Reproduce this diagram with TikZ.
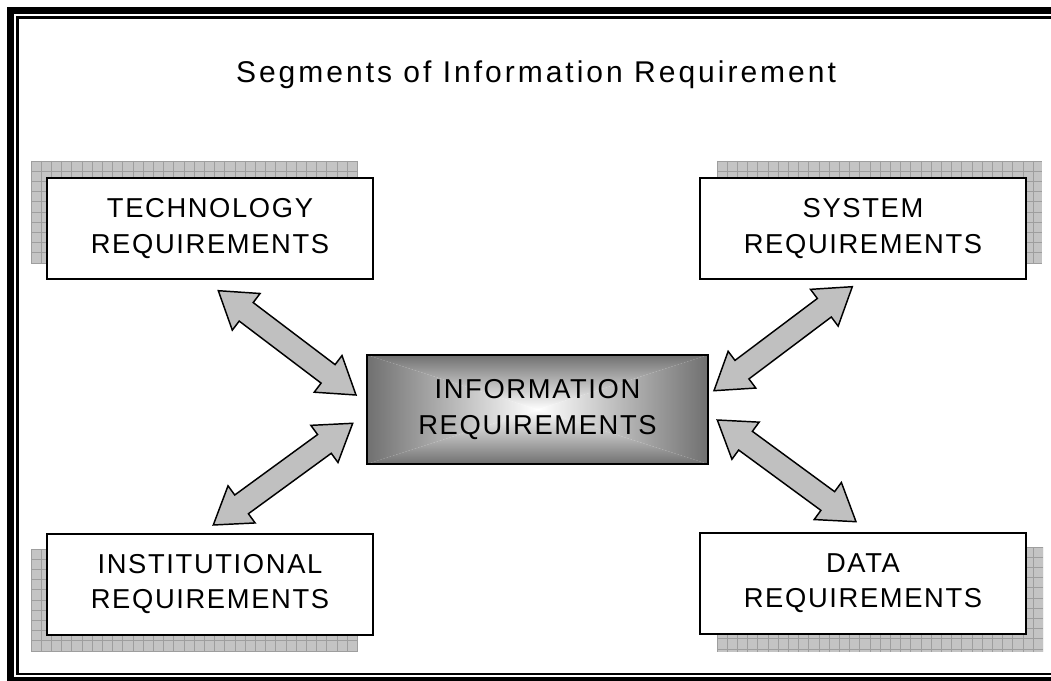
\documentclass[tikz,border=0pt]{standalone}
\usepackage{fontspec}
\setmainfont{Liberation Sans}
\newfontfamily\boxfont[LetterSpace=6]{Liberation Sans}
\newfontfamily\titlefont[LetterSpace=10]{Liberation Sans}
\usetikzlibrary{calc}
\definecolor{shadowfill}{RGB}{196,196,196}
\definecolor{shadowgrid}{RGB}{158,158,158}
\definecolor{arrowfill}{RGB}{192,192,192}
\definecolor{edgegray}{RGB}{112,112,112}
\newcommand\arrHL{26.25pt}
\newcommand\arrHW{17.25pt}
\newcommand\arrSW{8.7pt}
\newcommand\dblarr[2]{%
  \draw[blockarrow] let \p1=($(#2)-(#1)$), \n1={atan2(\y1,\x1)} in
    (#1) -- ($(#1)+(\n1:\arrHL)+(\n1+90:\arrHW)$) -- ($(#1)+(\n1:\arrHL)+(\n1+90:\arrSW)$)
    -- ($(#2)+(\n1:-\arrHL)+(\n1+90:\arrSW)$) -- ($(#2)+(\n1:-\arrHL)+(\n1+90:\arrHW)$) -- (#2)
    -- ($(#2)+(\n1:-\arrHL)+(\n1-90:\arrHW)$) -- ($(#2)+(\n1:-\arrHL)+(\n1-90:\arrSW)$)
    -- ($(#1)+(\n1:\arrHL)+(\n1-90:\arrSW)$) -- ($(#1)+(\n1:\arrHL)+(\n1-90:\arrHW)$) -- cycle;}
\newcommand\gridshadow[4]{%
  \fill[shadowfill] (#1,#2) rectangle (#3,#4);
  \begin{scope}
    \clip (#1,#2) rectangle (#3,#4);
    \foreach \gx in {0,...,33} {\draw[shadowgrid,line width=0.55pt] ({#1+\gx*10.2},#2) -- ({#1+\gx*10.2},#4);}
    \foreach \gy in {0,...,11} {\draw[shadowgrid,line width=0.55pt] (#1,{#2+\gy*10.2}) -- (#3,{#2+\gy*10.2});}
  \end{scope}}
\begin{document}
\begin{tikzpicture}[x=0.75pt,y=-0.75pt,
  reqbox/.style={draw=black,line width=1.5pt,fill=white,minimum width=244.5pt,minimum height=75.75pt,
    align=center,font=\boxfont\fontsize{20.5}{26.5}\selectfont,inner sep=0pt},
  blockarrow/.style={draw=black,line width=1.1pt,fill=arrowfill,line join=miter}]
\useasboundingbox (0,0) rectangle (1051,681);
\fill[white] (0,0) rectangle (1051,681);
% frame
\draw[line width=5.25pt] (10.5,10.5) rectangle (1058,680.5);
\draw[line width=2.2pt] (17.5,17.5) rectangle (1054,674);
% title
\node[anchor=base,font=\titlefont\fontsize{22.5}{26}\selectfont,inner sep=0pt] (title) at (536,83) {Segments of Information Requirement};
% shadows
\gridshadow{31}{161}{358}{264}
\gridshadow{717}{161}{1042}{264}
\gridshadow{31}{549}{358}{652}
\gridshadow{717}{547}{1043}{652}
% boxes
\node[reqbox] (tech) at (210,228.5) {TECHNOLOGY\\REQUIREMENTS};
\node[reqbox] (sys) at (863,228.5) {SYSTEM\\REQUIREMENTS};
\node[reqbox] (inst) at (210,584) {INSTITUTIONAL\\REQUIREMENTS};
\node[reqbox] (data) at (863,583.5) {DATA\\REQUIREMENTS};
% center box with rectangular gradient
\coordinate (ctl) at (367,355);
\coordinate (ctr) at (708,355);
\coordinate (cbl) at (367,464);
\coordinate (cbr) at (708,464);
\coordinate (cc) at (537.5,409.5);
\shade[top color=edgegray,bottom color=white] (ctl) -- (ctr) -- (cc) -- cycle;
\shade[top color=white,bottom color=edgegray] (cbl) -- (cbr) -- (cc) -- cycle;
\shade[left color=edgegray,right color=white] (ctl) -- (cbl) -- (cc) -- cycle;
\shade[left color=white,right color=edgegray] (ctr) -- (cbr) -- (cc) -- cycle;
\node[reqbox,fill=none,minimum width=255.75pt,minimum height=81.75pt] (info) at (cc) {INFORMATION\\REQUIREMENTS};
% arrows
\coordinate (a1a) at (218.3,290.7); \coordinate (a1b) at (356,395);
\coordinate (a2a) at (213.3,525);   \coordinate (a2b) at (352.7,423.3);
\coordinate (a3a) at (714,390.7);   \coordinate (a3b) at (852.3,286.7);
\coordinate (a4a) at (717.3,420);   \coordinate (a4b) at (856,521.7);
\dblarr{a1a}{a1b}
\dblarr{a2a}{a2b}
\dblarr{a3a}{a3b}
\dblarr{a4a}{a4b}
\end{tikzpicture}
\end{document}
